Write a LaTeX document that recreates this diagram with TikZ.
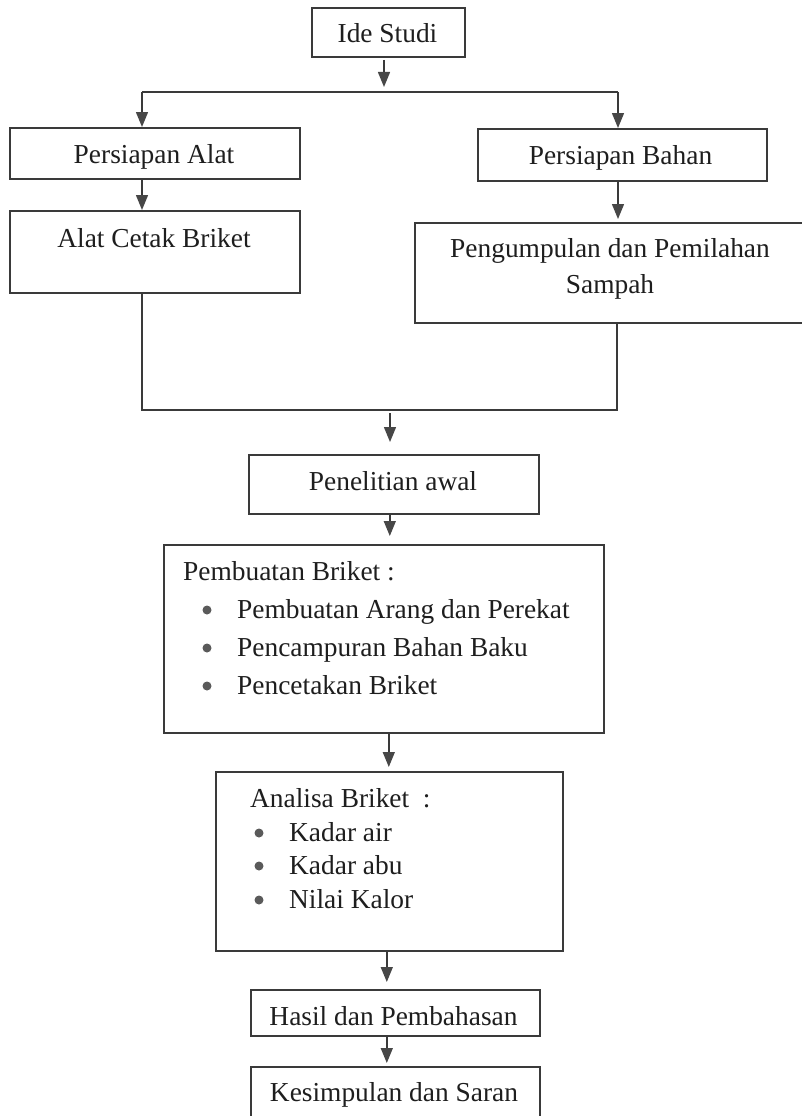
\documentclass[tikz,border=0pt]{standalone}
\usepackage{fontspec}
\setmainfont{Liberation Serif}
\usetikzlibrary{arrows.meta,calc}
\definecolor{linecol}{HTML}{3A3A3A}
\definecolor{textcol}{HTML}{1E1E1E}
\definecolor{tipcol}{HTML}{474747}
\definecolor{bulcol}{HTML}{5A5A5A}
\tikzset{
  box/.style={draw=linecol, line width=1.6pt, rectangle, inner sep=0pt, anchor=north west},
  txt/.style={text=textcol, inner sep=0pt, font=\fontsize{27.4}{33}\selectfont},
  ctxt/.style={txt, anchor=base},
  ltxt/.style={txt, anchor=base west},
  arr/.style={draw=linecol, line width=1.4pt, -{Triangle[width=12pt,length=15pt,fill=tipcol,color=tipcol]}},
  ln/.style={draw=linecol, line width=1.4pt},
  bul/.style={circle, fill=bulcol, inner sep=0pt, minimum size=9pt}
}
\begin{document}
\begin{tikzpicture}[x=1pt,y=-1pt]
\useasboundingbox (0,0) rectangle (802,1116);
\clip (0,0) rectangle (802,1116);
\fill[white] (0,0) rectangle (802,1116);

% boxes
\node[box, minimum width=153pt, minimum height=49pt] (ide) at (311,7) {};
\node[box, minimum width=290pt, minimum height=51pt] (palat) at (9,127) {};
\node[box, minimum width=289pt, minimum height=52pt] (pbahan) at (477,128) {};
\node[box, minimum width=290pt, minimum height=82pt] (cetak) at (9,210) {};
\node[box, minimum width=392pt, minimum height=100pt] (kumpul) at (414,222) {};
\node[box, minimum width=290pt, minimum height=59pt] (awal) at (248,454) {};
\node[box, minimum width=440pt, minimum height=188pt] (buat) at (163,544) {};
\node[box, minimum width=347pt, minimum height=179pt] (analisa) at (215,771) {};
\node[box, minimum width=289pt, minimum height=46pt] (hasil) at (250,989) {};
\node[box, minimum width=289pt, minimum height=70pt] (simpul) at (250,1066) {};

% texts
\node[ctxt] (tide) at (387.5,43) {Ide Studi};
\node[ctxt] (tpalat) at (154,163) {Persiapan Alat};
\node[ctxt] (tpbahan) at (620.5,164) {Persiapan Bahan};
\node[ctxt] (tcetak) at (154,247) {Alat Cetak Briket};
\node[ctxt] (tkumpul1) at (610,257) {Pengumpulan dan Pemilahan};
\node[ctxt] (tkumpul2) at (610,293) {Sampah};
\node[ctxt] (tawal) at (393,490) {Penelitian awal};
\node[ltxt] (tbuat) at (183,580) {Pembuatan Briket :};
\node[ltxt] (tbuat1) at (237,618) {Pembuatan Arang dan Perekat};
\node[ltxt] (tbuat2) at (237,656) {Pencampuran Bahan Baku};
\node[ltxt] (tbuat3) at (237,694) {Pencetakan Briket};
\node[bul] (b1) at (207,610) {};
\node[bul] (b2) at (207,648) {};
\node[bul] (b3) at (207,686) {};
\node[ltxt] (tanal) at (250,807) {Analisa Briket\ \ :};
\node[ltxt] (tanal1) at (289,841) {Kadar air};
\node[ltxt] (tanal2) at (289,874) {Kadar abu};
\node[ltxt] (tanal3) at (289,908) {Nilai Kalor};
\node[bul] (c1) at (259,833) {};
\node[bul] (c2) at (259,866) {};
\node[bul] (c3) at (259,900) {};
\node[ctxt] (thasil) at (393.5,1025) {Hasil dan Pembahasan};
\node[ctxt] (tsimpul) at (394,1101) {Kesimpulan dan Saran};

% junction coordinates
\coordinate (s0) at (384,60);
\coordinate (e0) at (384,87);
\coordinate (jl) at (142,92);
\coordinate (jr) at (618,92);
\coordinate (ml) at (142,410);
\coordinate (mr) at (617,410);
\coordinate (s1) at (390,413);
\coordinate (e1) at (390,442);

% connectors
\draw[arr] (s0) -- (e0);
\draw[ln] (jl) -- (jr);
\draw[arr] (jl) -- (jl |- palat.north);
\draw[arr] (jr) -- (jr |- pbahan.north);
\draw[arr] (jl |- palat.south) -- (jl |- cetak.north);
\draw[arr] (jr |- pbahan.south) -- ([yshift=3pt]jr |- kumpul.north);
\draw[ln] (ml |- cetak.south) -- (ml) -- (mr) -- (mr |- kumpul.south);
\draw[arr] (s1) -- (e1);
\draw[arr] ([xshift=-4pt]awal.south) -- ([xshift=-4pt,yshift=8pt]awal.south |- buat.north);
\draw[arr] ([xshift=5pt]buat.south) -- ([xshift=5pt,yshift=4pt]buat.south |- analisa.north);
\draw[arr] ([xshift=-2.5pt]analisa.south) -- ([xshift=-2.5pt,yshift=7pt]analisa.south |- hasil.north);
\draw[arr] ([xshift=-8.5pt]hasil.south) -- ([xshift=-8.5pt,yshift=3pt]hasil.south |- simpul.north);
\end{tikzpicture}
\end{document}
